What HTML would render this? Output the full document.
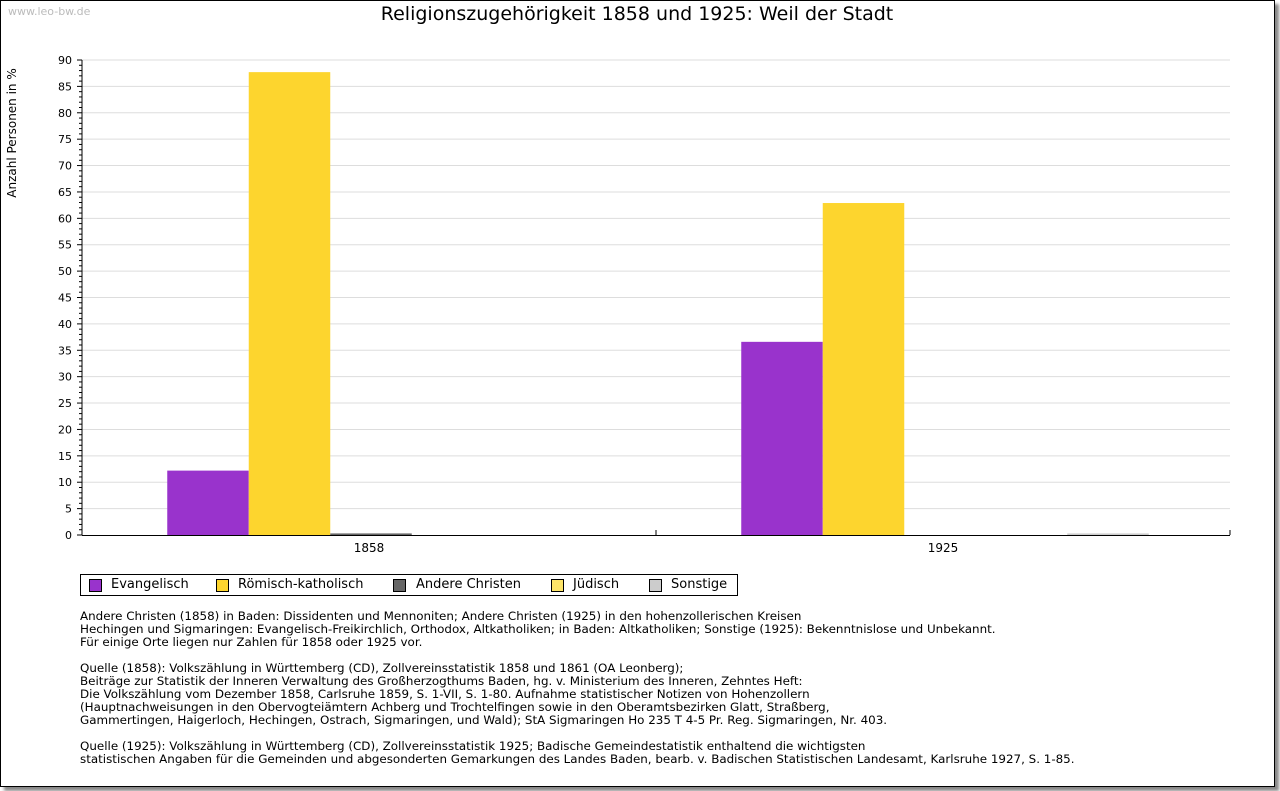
<!DOCTYPE html>
<html><head><meta charset="utf-8"><style>
body{margin:0;background:#fff;font-family:"DejaVu Sans","Liberation Sans",sans-serif;}
#frame{position:absolute;left:0;top:0;width:1273px;height:785px;border:1px solid #000;box-shadow:4px 4px 3px #888;background:#fff;}
.t{position:absolute;white-space:nowrap;}
</style></head><body>
<div id="frame"></div>
<div class="t" style="left:8px;top:5px;font-size:11px;color:#bbb;">www.leo-bw.de</div>
<div class="t" style="left:0;width:1274px;text-align:center;top:3px;font-size:19px;color:#000;">Religionszugehörigkeit 1858 und 1925: Weil der Stadt</div>
<svg id="chart" width="1280" height="600" style="position:absolute;left:0;top:0" font-family="DejaVu Sans, Liberation Sans, sans-serif"></svg>
<div style="position:absolute;left:80px;top:574px;width:656px;height:20px;border:1px solid #000;font-size:13px;">
<span class="t" style="left:8px;top:4px;width:11px;height:11px;background:#9933cc;border:1px solid #000;"></span><span class="t" style="left:30px;top:2px">Evangelisch</span>
<span class="t" style="left:135px;top:4px;width:11px;height:11px;background:#fdd52e;border:1px solid #000;"></span><span class="t" style="left:157px;top:2px">Römisch-katholisch</span>
<span class="t" style="left:312px;top:4px;width:11px;height:11px;background:#666;border:1px solid #000;"></span><span class="t" style="left:335px;top:2px">Andere Christen</span>
<span class="t" style="left:470px;top:4px;width:11px;height:11px;background:#fde468;border:1px solid #000;"></span><span class="t" style="left:492px;top:2px">Jüdisch</span>
<span class="t" style="left:568px;top:4px;width:11px;height:11px;background:#ccc;border:1px solid #000;"></span><span class="t" style="left:590px;top:2px">Sonstige</span>
</div>
<div style="position:absolute;left:80px;top:610px;font-size:11.9px;line-height:13px;color:#000;white-space:nowrap;">
Andere Christen (1858) in Baden: Dissidenten und Mennoniten; Andere Christen (1925) in den hohenzollerischen Kreisen<br>
Hechingen und Sigmaringen: Evangelisch-Freikirchlich, Orthodox, Altkatholiken; in Baden: Altkatholiken; Sonstige (1925): Bekenntnislose und Unbekannt.<br>
Für einige Orte liegen nur Zahlen für 1858 oder 1925 vor.<br><br>
Quelle (1858): Volkszählung in Württemberg (CD), Zollvereinsstatistik 1858 und 1861 (OA Leonberg);<br>
Beiträge zur Statistik der Inneren Verwaltung des Großherzogthums Baden, hg. v. Ministerium des Inneren, Zehntes Heft:<br>
Die Volkszählung vom Dezember 1858, Carlsruhe 1859, S. 1-VII, S. 1-80. Aufnahme statistischer Notizen von Hohenzollern<br>
(Hauptnachweisungen in den Obervogteiämtern Achberg und Trochtelfingen sowie in den Oberamtsbezirken Glatt, Straßberg,<br>
Gammertingen, Haigerloch, Hechingen, Ostrach, Sigmaringen, und Wald); StA Sigmaringen Ho 235 T 4-5 Pr. Reg. Sigmaringen, Nr. 403.<br><br>
Quelle (1925): Volkszählung in Württemberg (CD), Zollvereinsstatistik 1925; Badische Gemeindestatistik enthaltend die wichtigsten<br>
statistischen Angaben für die Gemeinden und abgesonderten Gemarkungen des Landes Baden, bearb. v. Badischen Statistischen Landesamt, Karlsruhe 1927, S. 1-85.
</div>
<script>
const categories=["1858","1925"];
const seriesNames=["Evangelisch","Römisch-katholisch","Andere Christen","Jüdisch","Sonstige"];
const evangelisch=[12.2,36.6];
const katholisch=[87.7,62.9];
const andere=[0.3,0];
const juedisch=[0,0];
const sonstige=[0,0.3];
const yTicks=[0,5,10,15,20,25,30,35,40,45,50,55,60,65,70,75,80,85,90];
const colors=["#9933cc","#fdd52e","#666666","#fde468","#cccccc"];
const series=[evangelisch,katholisch,andere,juedisch,sonstige];
const svg=document.getElementById('chart');const NS='http://www.w3.org/2000/svg';
const X0=82,X1=1230,Y0=535,Y1=60,YMAX=90;
const y=v=>Y0-(v/YMAX)*(Y0-Y1);
const catW=(X1-X0)/categories.length,barW=81.5;
const x=(c,s)=>X0+2+c*catW+catW/2-barW*series.length/2+s*barW;
function mk(t,a){const e=document.createElementNS(NS,t);for(const k in a)e.setAttribute(k,a[k]);svg.appendChild(e);return e;}
yTicks.forEach(v=>{
 if(v>0){const g=mk('line',{x1:X0,x2:X1,y1:y(v),y2:y(v),stroke:'#ddd'});
 
 }
 const t=mk('text',{x:72,y:y(v)+4,'text-anchor':'end','font-size':11});t.textContent=v;
 
 
});
for(let v=0;v<=YMAX;v++){mk('line',{x1:X0-(v%5?3:5),x2:X0,y1:y(v),y2:y(v),stroke:'#000'});}
series.forEach((arr,s)=>arr.forEach((v,c)=>{
 if(v<=0)return;
 const r=mk('rect',{x:x(c,s),y:y(v),width:barW,height:Y0-y(v),fill:colors[s]});
 
 
}));
mk('line',{x1:X0,x2:X0,y1:Y1,y2:Y0,stroke:'#000'});
mk('line',{x1:X0,x2:X1,y1:Y0+0.5,y2:Y0+0.5,stroke:'#000'});
[0,1,2].forEach(i=>mk('line',{x1:X0+i*catW,x2:X0+i*catW,y1:Y0-5,y2:Y0,stroke:'#000'}));
categories.forEach((c,i)=>{const t=mk('text',{x:X0+catW*i+catW/2,y:552,'text-anchor':'middle','font-size':12});t.textContent=c;
 
 });
const yt=mk('text',{x:0,y:0,'font-size':12,'text-anchor':'middle',transform:'translate(16,133) rotate(-90)'});yt.textContent='Anzahl Personen in %';


</script>
</body></html>
